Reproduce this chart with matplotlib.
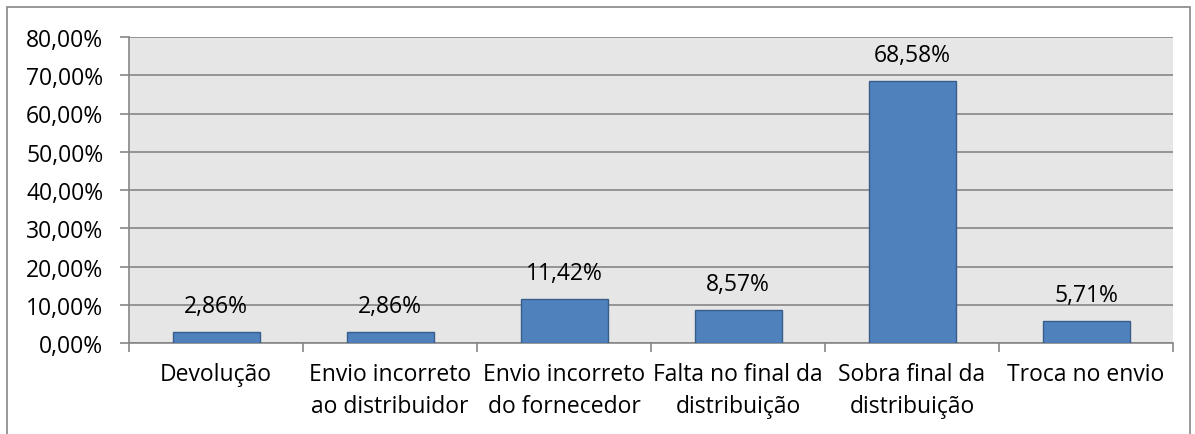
import numpy as np
import matplotlib.pyplot as plt
from matplotlib.patches import Rectangle
from matplotlib.ticker import FuncFormatter

categories = ['Devolução', 'Envio incorreto\nao distribuidor', 'Envio incorreto\ndo fornecedor',
              'Falta no final da\ndistribuição', 'Sobra final da\ndistribuição', 'Troca no envio']
values = [2.86, 2.86, 11.42, 8.57, 68.58, 5.71]
yticks = [0, 10, 20, 30, 40, 50, 60, 70, 80]

plt.rcParams['font.family'] = ['Open Sans', 'DejaVu Sans']
fs = 16.5

fig = plt.figure(figsize=(11.95, 4.35), dpi=100)
ax = fig.add_axes([129 / 1195, 1 - 344 / 435, 1044 / 1195, 306 / 435])

# outer chart border
fig.patches.append(Rectangle((7 / 1195, -0.01), 1183 / 1195, 1 - 8 / 435 + 0.01,
                             transform=fig.transFigure, fill=False,
                             edgecolor='#868686', linewidth=1.2))

x = np.arange(len(categories))
ax.set_facecolor('#e6e6e6')
ax.bar(x, values, width=0.5, color='#4f81bd', edgecolor='#385d8a', linewidth=1, zorder=3)

for xi, v in zip(x, values):
    ax.annotate(f'{v:.2f}%'.replace('.', ','), (xi, v), xytext=(0, 14.5),
                textcoords='offset points', ha='center', va='baseline',
                fontsize=fs, color='black', zorder=4)

ax.set_xlim(-0.5, len(categories) - 0.5)
ax.set_ylim(0, 80)
ax.set_yticks(yticks)
ax.yaxis.set_major_formatter(FuncFormatter(lambda v, p: f'{v:.2f}%'.replace('.', ',')))
ax.yaxis.grid(True, color='#868686', linewidth=1.2, zorder=1)
ax.set_axisbelow(True)

ax.set_xticks(x)
ax.set_xticklabels(categories, fontsize=fs, linespacing=1.4)
ax.set_xticks(np.arange(len(categories) + 1) - 0.5, minor=True)
ax.tick_params(axis='x', which='major', length=0, pad=14)
ax.tick_params(axis='x', which='minor', length=6.5, color='#868686', width=1.2)
ax.tick_params(axis='y', length=6.5, color='#868686', width=1.2, labelsize=fs, pad=12)

for s in ['top', 'right']:
    ax.spines[s].set_visible(False)
for s in ['left', 'bottom']:
    ax.spines[s].set_color('#868686')
    ax.spines[s].set_linewidth(1.2)

fig.savefig('out.png', dpi=100)
